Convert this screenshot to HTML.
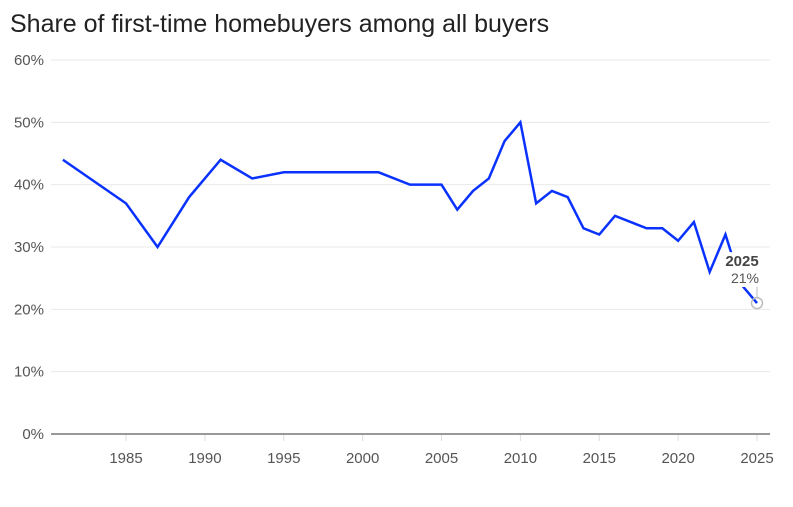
<!DOCTYPE html>
<html><head><meta charset="utf-8"><style>
body{margin:0;background:#fff;font-family:"Liberation Sans",sans-serif;}
svg text{font-family:"Liberation Sans",sans-serif;}
</style></head><body>
<svg id="chart" width="793" height="502" xmlns="http://www.w3.org/2000/svg">
<text x="10" y="32" font-size="25" fill="#222">Share of first-time homebuyers among all buyers</text>
<g id="grid"></g><g id="xaxis"></g><g id="series"></g><g id="annot"></g>
</svg>
<script>
const years=[1981,1985,1987,1989,1991,1993,1995,2001,2003,2005,2006,2007,2008,2009,2010,2011,2012,2013,2014,2015,2016,2018,2019,2020,2021,2022,2023,2024,2025];
const shares=[44,37,30,38,44,41,42,42,40,40,36,39,41,47,50,37,39,38,33,32,35,33,33,31,34,26,32,24,21];
const yTicks=[0,10,20,30,40,50,60];
const xTicks=[1985,1990,1995,2000,2005,2010,2015,2020,2025];
const NS="http://www.w3.org/2000/svg";
const x=v=>126+(v-1985)*15.775;
const y=v=>434-v*6.233;
function mk(tag,attrs,parent,txt){const e=document.createElementNS(NS,tag);for(const k in attrs)e.setAttribute(k,attrs[k]);if(txt!==undefined)e.textContent=txt;parent.appendChild(e);return e;}
const grid=document.getElementById('grid');
yTicks.forEach(t=>{
  const l=mk('line',{x1:51,x2:770,y1:y(t),y2:y(t),stroke:t===0?'#333':'#e9e9e9','stroke-width':1},grid);
  
  
  const tx=mk('text',{x:44,y:y(t)+5,'text-anchor':'end','font-size':15,fill:'#555'},grid,t+'%');
  
  
});
const xa=document.getElementById('xaxis');
xTicks.forEach(t=>{
  const l=mk('line',{x1:x(t),x2:x(t),y1:435,y2:441,stroke:'#ddd','stroke-width':1},xa);
  
  
  const tx=mk('text',{x:x(t),y:463,'text-anchor':'middle','font-size':15,fill:'#555'},xa,String(t));
  
  
});
const s=document.getElementById('series');
const p=mk('path',{d:years.map((yr,i)=>(i?'L':'M')+x(yr)+','+y(shares[i])).join(''),fill:'none',stroke:'#0a32ff','stroke-width':2.5,'stroke-linejoin':'miter'},s);


const a=document.getElementById('annot');
const li=years.length-1, lx=x(years[li]), ly=y(shares[li]);
const c=mk('circle',{cx:lx,cy:ly,r:5.5,fill:'none',stroke:'#bbb','stroke-width':1.5},a);


const vl=mk('line',{x1:lx,x2:lx,y1:ly-17,y2:ly-6,stroke:'#bbb','stroke-width':1},a);


const t1=mk('text',{x:lx-15,y:ly-37,'text-anchor':'middle','font-size':15,'font-weight':'bold',fill:'#444',stroke:'#fff','stroke-width':8,'stroke-linejoin':'round','paint-order':'stroke'},a,String(years[li]));


const t2=mk('text',{x:lx-12,y:ly-20,'text-anchor':'middle','font-size':14,fill:'#555',stroke:'#fff','stroke-width':8,'stroke-linejoin':'round','paint-order':'stroke'},a,shares[li]+'%');


</script>
</body></html>
